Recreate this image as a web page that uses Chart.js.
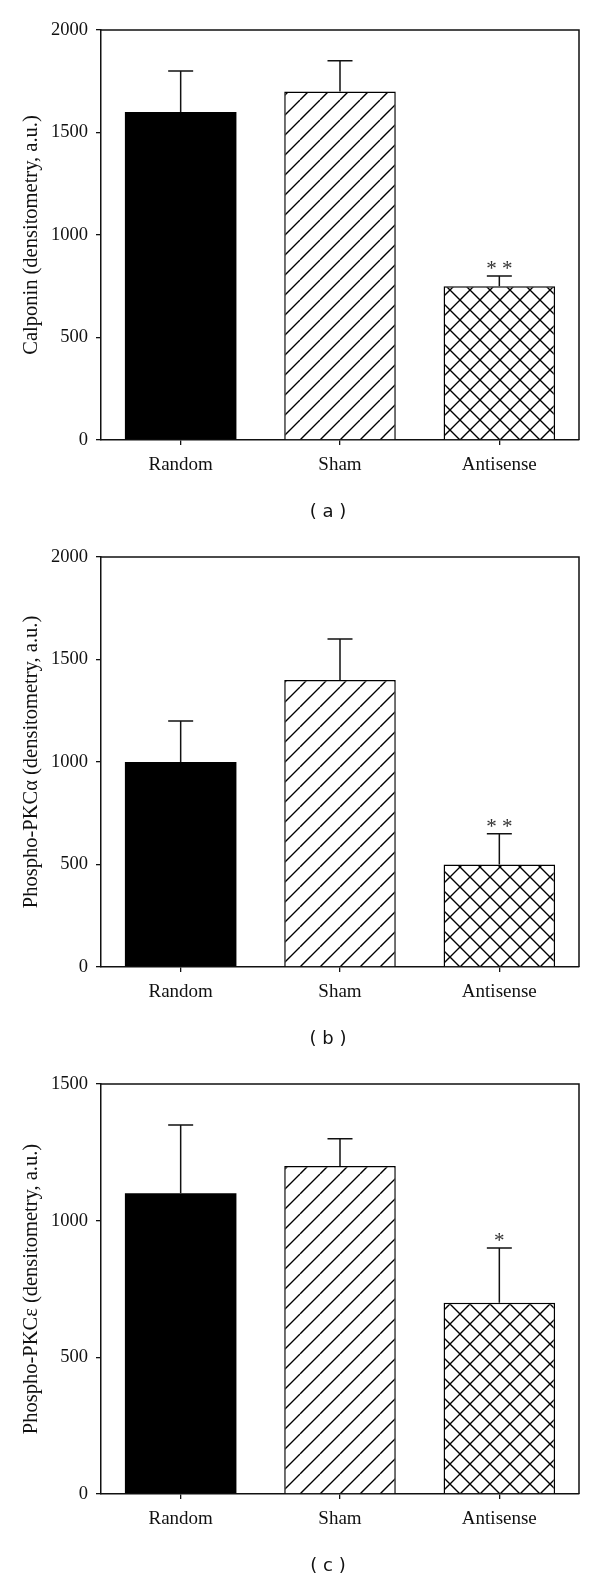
<!DOCTYPE html>
<html>
<head>
<meta charset="utf-8">
<script src="https://cdn.jsdelivr.net/npm/chart.js@4"></script>
<style>
  body { margin: 0; background: #fff; }
  .panel { position: relative; width: 600px; height: 527px; }
  .panel canvas { position: absolute; left: 0; top: 0; }
  .tag { position: absolute; left: 278px; width: 100px; top: 500px; line-height: 22px;
         text-align: center; font: 18px "DejaVu Sans", sans-serif; color: #111; }
</style>
</head>
<body>
<div class="panel"><canvas id="chartA" width="600" height="527"></canvas><div class="tag">( a )</div></div>
<div class="panel"><canvas id="chartB" width="600" height="527"></canvas><div class="tag">( b )</div></div>
<div class="panel"><canvas id="chartC" width="600" height="527"></canvas><div class="tag">( c )</div></div>
<script>
// groups on the x axis
const groups = ['Random', 'Sham', 'Antisense'];

// (a) calponin
const calponin = [1600, 1700, 750];
const calponinErr = [200, 150, 50];
const calponinMarks = ['', '', '* *'];

// (b) phospho-PKC alpha
const pkcAlpha = [1000, 1400, 500];
const pkcAlphaErr = [200, 200, 150];
const pkcAlphaMarks = ['', '', '* *'];

// (c) phospho-PKC epsilon
const pkcEps = [1100, 1200, 700];
const pkcEpsErr = [250, 100, 200];
const pkcEpsMarks = ['', '', '*'];

// y axis ranges
const yMaxAB = 2000;
const yMaxC = 1500;
const yStep = 500;

Chart.defaults.font.family = '"Liberation Serif", serif';
Chart.defaults.color = '#111';

// hatch fills: '/' for sham, crosshatch for antisense
function hatch(kind) {
    const s = 20;
    const c = document.createElement('canvas');
    c.width = s; c.height = s;
    const g = c.getContext('2d');
    g.fillStyle = '#fff';
    g.fillRect(0, 0, s, s);
    g.strokeStyle = '#000';
    g.lineWidth = 1.4;
    g.beginPath();
    for (const o of [-s, 0, s]) { g.moveTo(o, s); g.lineTo(o + s, 0); }
    if (kind === 'cross') {
        for (const o of [-s, 0, s]) { g.moveTo(o, 0); g.lineTo(o + s, s); }
    }
    g.stroke();
    return g.createPattern(c, 'repeat');
}
const fills = ['#000', hatch('slash'), hatch('cross')];

// error bars (upper half only) + significance stars
const errorBars = {
    id: 'errorBars',
    afterDatasetsDraw(chart) {
        const ctx = chart.ctx;
        const y = chart.scales.y;
        const ds = chart.data.datasets[0];
        const meta = chart.getDatasetMeta(0);
        ctx.save();
        ctx.strokeStyle = '#111';
        ctx.lineWidth = 1.5;
        ctx.fillStyle = '#333';
        ctx.font = '21px "Liberation Serif", serif';
        ctx.textAlign = 'center';
        ctx.textBaseline = 'alphabetic';
        meta.data.forEach((bar, i) => {
            const top = y.getPixelForValue(ds.data[i] + ds.err[i]);
            ctx.beginPath();
            ctx.moveTo(bar.x, bar.y);
            ctx.lineTo(bar.x, top);
            ctx.moveTo(bar.x - 12.5, top);
            ctx.lineTo(bar.x + 12.5, top);
            ctx.stroke();
            if (ds.marks[i]) ctx.fillText(ds.marks[i], bar.x, top - 1);
        });
        ctx.restore();
    }
};

// top and right side of the box
const frame = {
    id: 'frame',
    afterDraw(chart) {
        const {ctx, chartArea: a} = chart;
        ctx.save();
        ctx.strokeStyle = '#111';
        ctx.lineWidth = 1.5;
        ctx.beginPath();
        ctx.moveTo(a.left, a.top);
        ctx.lineTo(a.right, a.top);
        ctx.lineTo(a.right, a.bottom);
        ctx.stroke();
        ctx.restore();
    }
};

function makeChart(id, values, errs, marks, yMax, yTitle) {
    const ctx = document.getElementById(id).getContext('2d');
    return new Chart(ctx, {
        type: 'bar',
        data: {
            labels: groups,
            datasets: [{
                data: values,
                err: errs,
                marks: marks,
                backgroundColor: fills,
                borderColor: '#000',
                borderWidth: [0, 1.5, 1.5],
                barPercentage: 0.7,
                categoryPercentage: 1
            }]
        },
        options: {
            responsive: false,
            animation: false,
            layout: { padding: { top: 30, right: 21, bottom: 0, left: 0 } },
            plugins: { legend: { display: false }, tooltip: { enabled: false } },
            scales: {
                x: {
                    afterFit: s => { s.height = 87; },
                    grid: { offset: false, drawOnChartArea: false, tickLength: 5, color: '#111', lineWidth: 1.3 },
                    border: { color: '#111', width: 1.5 },
                    ticks: { font: { size: 19 }, padding: 9, maxRotation: 0, autoSkip: false }
                },
                y: {
                    min: 0,
                    max: yMax,
                    afterFit: s => { s.width = 101; },
                    grid: { drawOnChartArea: false, tickLength: 5, color: '#111', lineWidth: 1.3 },
                    border: { color: '#111', width: 1.5 },
                    ticks: { stepSize: yStep, font: { size: 18.5 }, padding: 8, callback: v => String(v) },
                    title: { display: true, text: yTitle, font: { size: 20.5 }, padding: { top: 19, bottom: 0 } }
                }
            }
        },
        plugins: [errorBars, frame]
    });
}

makeChart('chartA', calponin, calponinErr, calponinMarks, yMaxAB, 'Calponin (densitometry, a.u.)');
makeChart('chartB', pkcAlpha, pkcAlphaErr, pkcAlphaMarks, yMaxAB, 'Phospho-PKCα (densitometry, a.u.)');
makeChart('chartC', pkcEps, pkcEpsErr, pkcEpsMarks, yMaxC, 'Phospho-PKCε (densitometry, a.u.)');
</script>
</body>
</html>
